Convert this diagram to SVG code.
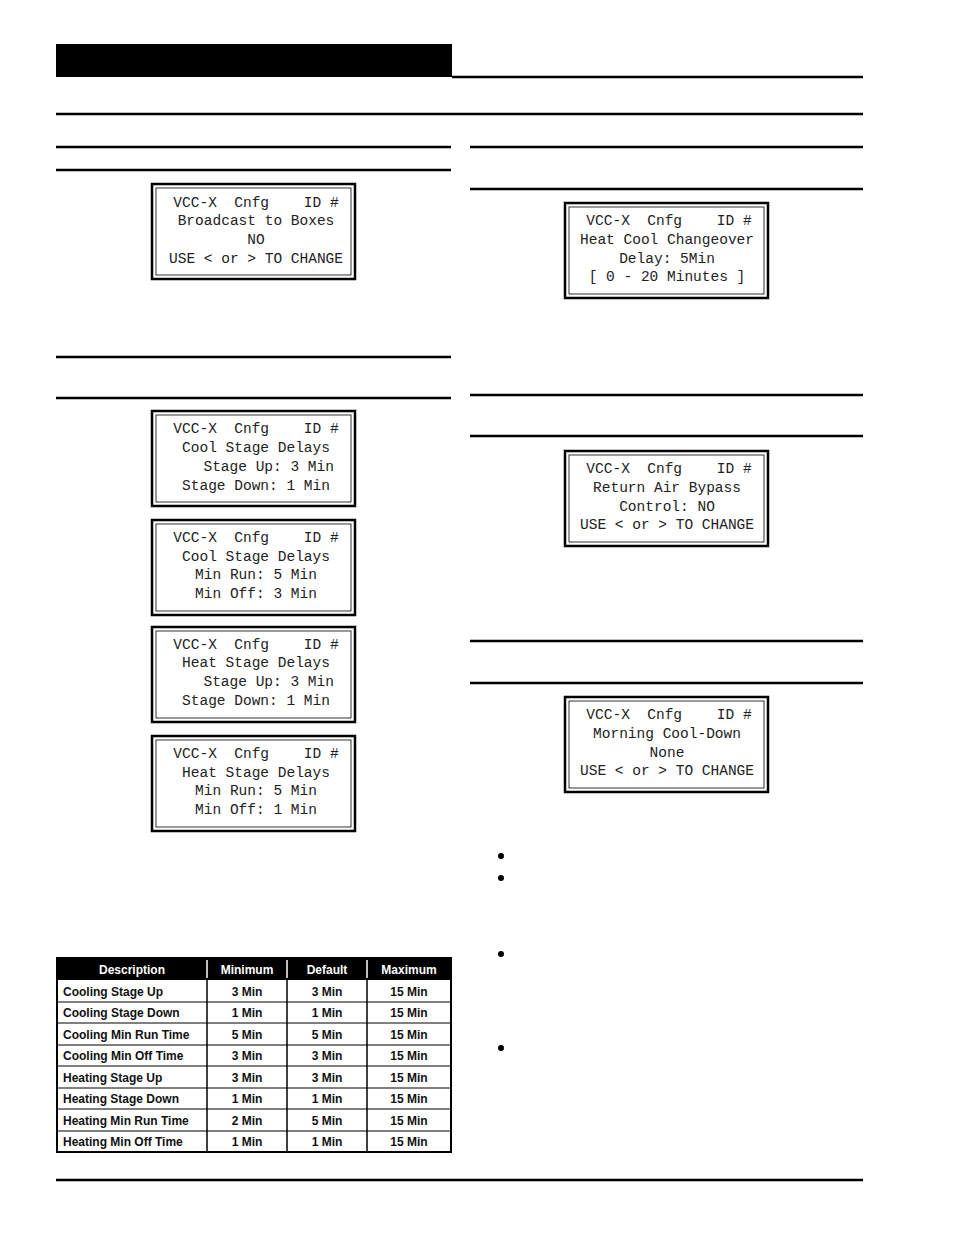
<svg xmlns="http://www.w3.org/2000/svg" width="954" height="1235" viewBox="0 0 954 1235">
<style>
.lcd{fill:#fff;stroke:#000;stroke-width:2.5}
.in{fill:none;stroke:#000;stroke-width:0.8}
.t{font-family:"Liberation Mono",monospace;font-size:14.5px;text-anchor:middle;fill:#222;white-space:pre}
.rule{stroke:#000;stroke-width:2.5}
.th{font-family:"Liberation Sans",Arial,sans-serif;font-size:12px;font-weight:bold;fill:#fff;text-anchor:middle}
.td{font-family:"Liberation Sans",Arial,sans-serif;font-size:12px;font-weight:bold;fill:#111}
.c{text-anchor:middle}
</style>
<defs>
<g id="box"><rect class="lcd" x="0" y="0" width="203" height="95"/><rect class="in" x="4" y="4" width="195" height="87"/></g>
</defs>
<rect width="954" height="1235" fill="#fff"/>
<rect x="56" y="44" width="396" height="33" fill="#000"/>
<g class="rule">
<line x1="452" y1="77" x2="863" y2="77"/>
<line x1="56" y1="114" x2="863" y2="114"/>
<line x1="56" y1="147" x2="451" y2="147"/>
<line x1="56" y1="170" x2="451" y2="170"/>
<line x1="56" y1="357" x2="451" y2="357"/>
<line x1="56" y1="398" x2="451" y2="398"/>
<line x1="470" y1="147" x2="863" y2="147"/>
<line x1="470" y1="189" x2="863" y2="189"/>
<line x1="470" y1="395" x2="863" y2="395"/>
<line x1="470" y1="436" x2="863" y2="436"/>
<line x1="470" y1="641" x2="863" y2="641"/>
<line x1="470" y1="683" x2="863" y2="683"/>
<line x1="56" y1="1180" x2="863" y2="1180"/>
</g>
<g id="n1" transform="translate(152,184)"><use href="#box"/><text class="t" x="104" y="23" xml:space="preserve">VCC-X  Cnfg    ID #</text><text class="t" x="104" y="41">Broadcast to Boxes</text><text class="t" x="104" y="60">NO</text><text class="t" x="104" y="79" xml:space="preserve">USE &lt; or &gt; TO CHANGE</text></g>
<g id="n2" transform="translate(152,411)"><use href="#box"/><text class="t" x="104" y="22" xml:space="preserve">VCC-X  Cnfg    ID #</text><text class="t" x="104" y="41">Cool Stage Delays</text><text class="t" x="108" y="60" xml:space="preserve">  Stage Up: 3 Min</text><text class="t" x="104" y="79">Stage Down: 1 Min</text></g>
<g id="n3" transform="translate(152,520)"><use href="#box"/><text class="t" x="104" y="22" xml:space="preserve">VCC-X  Cnfg    ID #</text><text class="t" x="104" y="41">Cool Stage Delays</text><text class="t" x="104" y="59">Min Run: 5 Min</text><text class="t" x="104" y="78">Min Off: 3 Min</text></g>
<g id="n4" transform="translate(152,627)"><use href="#box"/><text class="t" x="104" y="22" xml:space="preserve">VCC-X  Cnfg    ID #</text><text class="t" x="104" y="40">Heat Stage Delays</text><text class="t" x="108" y="59" xml:space="preserve">  Stage Up: 3 Min</text><text class="t" x="104" y="78">Stage Down: 1 Min</text></g>
<g id="n5" transform="translate(152,736)"><use href="#box"/><text class="t" x="104" y="22" xml:space="preserve">VCC-X  Cnfg    ID #</text><text class="t" x="104" y="41">Heat Stage Delays</text><text class="t" x="104" y="59">Min Run: 5 Min</text><text class="t" x="104" y="78">Min Off: 1 Min</text></g>
<g id="n6" transform="translate(565,203)"><use href="#box"/><text class="t" x="104" y="22" xml:space="preserve">VCC-X  Cnfg    ID #</text><text class="t" x="102" y="41">Heat Cool Changeover</text><text class="t" x="102" y="60">Delay: 5Min</text><text class="t" x="102" y="78" xml:space="preserve">[ 0 - 20 Minutes ]</text></g>
<g id="n7" transform="translate(565,451)"><use href="#box"/><text class="t" x="104" y="22" xml:space="preserve">VCC-X  Cnfg    ID #</text><text class="t" x="102" y="41">Return Air Bypass</text><text class="t" x="102" y="60">Control: NO</text><text class="t" x="102" y="78" xml:space="preserve">USE &lt; or &gt; TO CHANGE</text></g>
<g id="n8" transform="translate(565,697)"><use href="#box"/><text class="t" x="104" y="22" xml:space="preserve">VCC-X  Cnfg    ID #</text><text class="t" x="102" y="41">Morning Cool-Down</text><text class="t" x="102" y="60">None</text><text class="t" x="102" y="78" xml:space="preserve">USE &lt; or &gt; TO CHANGE</text></g>
<g fill="#000"><circle cx="501" cy="856" r="3"/><circle cx="501" cy="878" r="3"/><circle cx="501" cy="954" r="3"/><circle cx="501" cy="1048" r="3"/></g>
<g id="table">
<rect x="57" y="958" width="394" height="22" fill="#000"/>
<rect x="57" y="958" width="394" height="194" fill="none" stroke="#000" stroke-width="2"/>
<g stroke="#000" stroke-width="1.5">
<line x1="207" y1="958" x2="207" y2="1152"/><line x1="287" y1="958" x2="287" y2="1152"/><line x1="367" y1="958" x2="367" y2="1152"/>
</g>
<g stroke="#fff" stroke-width="1.5"><line x1="207" y1="960" x2="207" y2="978"/><line x1="287" y1="960" x2="287" y2="978"/><line x1="367" y1="960" x2="367" y2="978"/></g>
<g stroke="#000" stroke-width="1">
<line x1="57" y1="1002" x2="451" y2="1002"/><line x1="57" y1="1023" x2="451" y2="1023"/><line x1="57" y1="1045" x2="451" y2="1045"/><line x1="57" y1="1066" x2="451" y2="1066"/><line x1="57" y1="1088" x2="451" y2="1088"/><line x1="57" y1="1109" x2="451" y2="1109"/><line x1="57" y1="1131" x2="451" y2="1131"/>
</g>
<text class="th" x="132" y="974">Description</text><text class="th" x="247" y="974">Minimum</text><text class="th" x="327" y="974">Default</text><text class="th" x="409" y="974">Maximum</text>
<g class="td">
<text x="63" y="996">Cooling Stage Up</text><text class="c" x="247" y="996">3 Min</text><text class="c" x="327" y="996">3 Min</text><text class="c" x="409" y="996">15 Min</text>
<text x="63" y="1017">Cooling Stage Down</text><text class="c" x="247" y="1017">1 Min</text><text class="c" x="327" y="1017">1 Min</text><text class="c" x="409" y="1017">15 Min</text>
<text x="63" y="1039">Cooling Min Run Time</text><text class="c" x="247" y="1039">5 Min</text><text class="c" x="327" y="1039">5 Min</text><text class="c" x="409" y="1039">15 Min</text>
<text x="63" y="1060">Cooling Min Off Time</text><text class="c" x="247" y="1060">3 Min</text><text class="c" x="327" y="1060">3 Min</text><text class="c" x="409" y="1060">15 Min</text>
<text x="63" y="1082">Heating Stage Up</text><text class="c" x="247" y="1082">3 Min</text><text class="c" x="327" y="1082">3 Min</text><text class="c" x="409" y="1082">15 Min</text>
<text x="63" y="1103">Heating Stage Down</text><text class="c" x="247" y="1103">1 Min</text><text class="c" x="327" y="1103">1 Min</text><text class="c" x="409" y="1103">15 Min</text>
<text x="63" y="1125">Heating Min Run Time</text><text class="c" x="247" y="1125">2 Min</text><text class="c" x="327" y="1125">5 Min</text><text class="c" x="409" y="1125">15 Min</text>
<text x="63" y="1146">Heating Min Off Time</text><text class="c" x="247" y="1146">1 Min</text><text class="c" x="327" y="1146">1 Min</text><text class="c" x="409" y="1146">15 Min</text>
</g>
</g>
<g id="connectors"/>
</svg>
